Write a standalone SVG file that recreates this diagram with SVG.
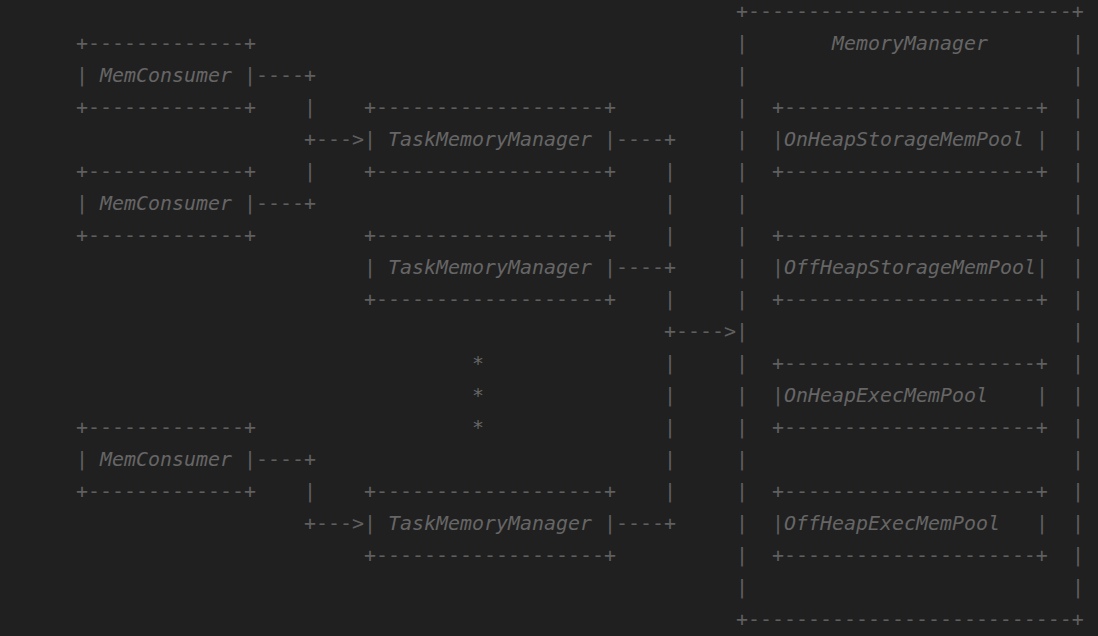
<svg xmlns="http://www.w3.org/2000/svg" width="1098" height="636" viewBox="0 0 1098 636">
<style>
text{font-family:"DejaVu Sans Mono","Liberation Mono",monospace;font-size:19.93px;fill:#5f5f5f;white-space:pre}
.l{font-style:italic;fill:#666666}
</style>
<rect width="1098" height="636" fill="#202020"/>
<g transform="translate(0,1)">
<g id="mem-consumer-1">
<text x="76" y="49.3">+-------------+</text>
<text x="76" y="81.3">|</text><text class="l" x="100" y="81.3">MemConsumer</text><text x="244" y="81.3">|</text>
<text x="76" y="113.3">+-------------+</text>
</g>
<g id="mem-consumer-2">
<text x="76" y="177.3">+-------------+</text>
<text x="76" y="209.3">|</text><text class="l" x="100" y="209.3">MemConsumer</text><text x="244" y="209.3">|</text>
<text x="76" y="241.3">+-------------+</text>
</g>
<g id="mem-consumer-3">
<text x="76" y="433.3">+-------------+</text>
<text x="76" y="465.3">|</text><text class="l" x="100" y="465.3">MemConsumer</text><text x="244" y="465.3">|</text>
<text x="76" y="497.3">+-------------+</text>
</g>
<g id="task-memory-manager-1">
<text x="364" y="113.3">+-------------------+</text>
<text x="364" y="145.3">|</text><text class="l" x="388" y="145.3">TaskMemoryManager</text><text x="604" y="145.3">|</text>
<text x="364" y="177.3">+-------------------+</text>
</g>
<g id="task-memory-manager-2">
<text x="364" y="241.3">+-------------------+</text>
<text x="364" y="273.3">|</text><text class="l" x="388" y="273.3">TaskMemoryManager</text><text x="604" y="273.3">|</text>
<text x="364" y="305.3">+-------------------+</text>
</g>
<g id="task-memory-manager-3">
<text x="364" y="497.3">+-------------------+</text>
<text x="364" y="529.3">|</text><text class="l" x="388" y="529.3">TaskMemoryManager</text><text x="604" y="529.3">|</text>
<text x="364" y="561.3">+-------------------+</text>
</g>
<g id="ellipsis">
<text class="l" x="472" y="369.3">*</text>
<text class="l" x="472" y="401.3">*</text>
<text class="l" x="472" y="433.3">*</text>
</g>
<g id="memory-manager">
<text x="736" y="17.3">+---------------------------+</text>
<text x="736" y="625.3">+---------------------------+</text>
<text class="l" x="832" y="49.3">MemoryManager</text>
<g id="mm-left-side">
<text x="736" y="49.3">|</text><text x="736" y="81.3">|</text><text x="736" y="113.3">|</text><text x="736" y="145.3">|</text><text x="736" y="177.3">|</text><text x="736" y="209.3">|</text><text x="736" y="241.3">|</text><text x="736" y="273.3">|</text><text x="736" y="305.3">|</text><text x="736" y="337.3">|</text><text x="736" y="369.3">|</text><text x="736" y="401.3">|</text><text x="736" y="433.3">|</text><text x="736" y="465.3">|</text><text x="736" y="497.3">|</text><text x="736" y="529.3">|</text><text x="736" y="561.3">|</text><text x="736" y="593.3">|</text>
</g>
<g id="mm-right-side">
<text x="1072" y="49.3">|</text><text x="1072" y="81.3">|</text><text x="1072" y="113.3">|</text><text x="1072" y="145.3">|</text><text x="1072" y="177.3">|</text><text x="1072" y="209.3">|</text><text x="1072" y="241.3">|</text><text x="1072" y="273.3">|</text><text x="1072" y="305.3">|</text><text x="1072" y="337.3">|</text><text x="1072" y="369.3">|</text><text x="1072" y="401.3">|</text><text x="1072" y="433.3">|</text><text x="1072" y="465.3">|</text><text x="1072" y="497.3">|</text><text x="1072" y="529.3">|</text><text x="1072" y="561.3">|</text><text x="1072" y="593.3">|</text>
</g>
<g id="on-heap-storage-mem-pool">
<text x="772" y="113.3">+---------------------+</text>
<text x="772" y="145.3">|</text><text class="l" x="784" y="145.3">OnHeapStorageMemPool</text><text x="1036" y="145.3">|</text>
<text x="772" y="177.3">+---------------------+</text>
</g>
<g id="off-heap-storage-mem-pool">
<text x="772" y="241.3">+---------------------+</text>
<text x="772" y="273.3">|</text><text class="l" x="784" y="273.3">OffHeapStorageMemPool</text><text x="1036" y="273.3">|</text>
<text x="772" y="305.3">+---------------------+</text>
</g>
<g id="on-heap-exec-mem-pool">
<text x="772" y="369.3">+---------------------+</text>
<text x="772" y="401.3">|</text><text class="l" x="784" y="401.3">OnHeapExecMemPool</text><text x="1036" y="401.3">|</text>
<text x="772" y="433.3">+---------------------+</text>
</g>
<g id="off-heap-exec-mem-pool">
<text x="772" y="497.3">+---------------------+</text>
<text x="772" y="529.3">|</text><text class="l" x="784" y="529.3">OffHeapExecMemPool</text><text x="1036" y="529.3">|</text>
<text x="772" y="561.3">+---------------------+</text>
</g>
</g>
<g id="connectors">
<text x="256" y="81.3">----+</text>
<text x="304" y="113.3">|</text>
<text x="304" y="145.3">+---&gt;</text>
<text x="304" y="177.3">|</text>
<text x="256" y="209.3">----+</text>
<text x="256" y="465.3">----+</text>
<text x="304" y="497.3">|</text>
<text x="304" y="529.3">+---&gt;</text>
<text x="616" y="145.3">----+</text>
<text x="664" y="177.3">|</text>
<text x="664" y="209.3">|</text>
<text x="664" y="241.3">|</text>
<text x="616" y="273.3">----+</text>
<text x="664" y="305.3">|</text>
<text x="664" y="337.3">+----&gt;</text>
<text x="664" y="369.3">|</text>
<text x="664" y="401.3">|</text>
<text x="664" y="433.3">|</text>
<text x="664" y="465.3">|</text>
<text x="664" y="497.3">|</text>
<text x="616" y="529.3">----+</text>
</g>
</g>
</svg>
